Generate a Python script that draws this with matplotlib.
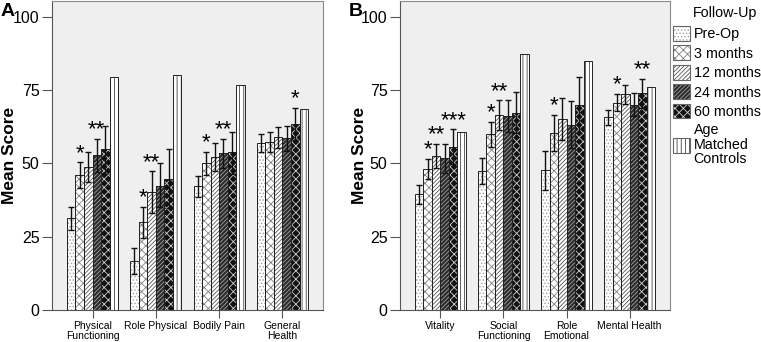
import matplotlib
matplotlib.use('Agg')
import matplotlib.pyplot as plt
import numpy as np
from matplotlib.patches import Patch

plt.rcParams['font.family'] = ['Liberation Sans', 'DejaVu Sans']
plt.rcParams['hatch.linewidth'] = 0.6

# Data
series = ['Pre-Op', '3 months', '12 months', '24 months', '60 months', 'Age\nMatched\nControls']

a_groups = ['Physical\nFunctioning', 'Role Physical', 'Bodily Pain', 'General\nHealth']
a_mean = [[31.2, 16.6, 42.3, 57.0],
          [46.0, 29.9, 50.0, 57.2],
          [48.6, 40.1, 52.3, 58.9],
          [52.7, 42.4, 53.4, 58.5],
          [54.7, 44.7, 53.9, 63.5],
          [79.5, 80.2, 76.8, 68.5]]
a_lo = [[27.3, 12.2, 38.5, 53.8],
        [41.5, 24.4, 46.0, 54.0],
        [43.5, 33.0, 47.5, 55.3],
        [47.0, 35.0, 48.3, 54.2],
        [46.3, 34.7, 46.5, 57.8]]
a_hi = [[35.0, 21.1, 45.8, 60.0],
        [50.3, 35.2, 53.8, 60.5],
        [53.9, 47.2, 56.8, 62.3],
        [58.2, 50.0, 58.4, 62.7],
        [62.7, 54.9, 60.7, 69.0]]
a_stars = [{1: '*', 3: '**'}, {1: '*', 2: '**'}, {1: '*', 3: '**'}, {4: '*'}]

b_groups = ['Vitality', 'Social\nFunctioning', 'Role\nEmotional', 'Mental Health']
b_mean = [[39.4, 47.3, 47.6, 65.6],
          [48.0, 59.9, 60.3, 70.7],
          [52.5, 66.4, 65.1, 73.5],
          [51.7, 66.1, 63.2, 70.0],
          [55.6, 67.3, 69.8, 73.8],
          [60.6, 87.2, 85.0, 76.0]]
b_lo = [[36.1, 42.8, 40.8, 63.0],
        [44.7, 55.7, 54.3, 67.8],
        [48.4, 61.4, 58.0, 70.3],
        [46.6, 60.6, 55.1, 66.1],
        [49.6, 60.4, 60.3, 68.8]]
b_hi = [[42.5, 51.8, 54.1, 68.2],
        [51.4, 64.1, 66.4, 73.6],
        [56.6, 71.4, 72.3, 76.7],
        [56.4, 71.6, 71.3, 73.9],
        [61.6, 74.2, 79.3, 78.8]]
b_stars = [{1: '*', 2: '**', 4: '***'}, {1: '*', 2: '**'}, {1: '*'}, {1: '*', 4: '**'}]

# fill colour, hatch colour, hatch pattern for each follow-up
styles = [('white', '#a0a0a0', '.....'),
          ('white', '#808080', 'xxxx'),
          ('white', '#555555', '////////'),
          ('#2a2a2a', '#a0a0a0', '////////'),
          ('#111111', '#d0d0d0', 'xxxx'),
          ('white', '#444444', '||||')]

bw = 0.135


def draw_panel(ax, groups, mean, lo, hi, stars, letter, lab_x):
    x = np.arange(len(groups))
    for i in range(6):
        xi = x + (i - 2.5) * bw
        fc, hc, h = styles[i]
        ax.bar(xi, mean[i], bw, color=fc, edgecolor=hc, hatch=h, linewidth=0, zorder=2)
        ax.bar(xi, mean[i], bw, fill=False, edgecolor='#222222', linewidth=0.7, zorder=3)
        if i < 5:
            m = np.array(mean[i])
            err = [m - np.array(lo[i]), np.array(hi[i]) - m]
            ax.errorbar(xi, m, yerr=err, fmt='none', ecolor='#111111',
                        elinewidth=1.0, capsize=2.0, capthick=1.0, zorder=4)
    for g, d in enumerate(stars):
        for i, s in d.items():
            ax.text(x[g] + (i - 2.5) * bw, hi[i][g] - 0.5, s, ha='center', va='bottom',
                    fontsize=16, zorder=5)
    ax.set_xlim(-0.64, 3.64)
    ax.set_ylim(0, 105.3)
    ax.set_yticks([0, 25, 50, 75, 100])
    ax.set_xticks(x)
    ax.set_xticklabels(groups, fontsize=7.5, linespacing=1.0)
    ax.tick_params(axis='y', labelsize=11.5, length=7, width=0.8, color='#555555', pad=2)
    ax.tick_params(axis='x', length=6, width=0.8, color='#555555', pad=2)
    ax.set_facecolor('#efefef')
    for s in ['left', 'bottom']:
        ax.spines[s].set_color('#555555')
    for s in ['top', 'right']:
        ax.spines[s].set_color('#8a8a8a')
    ax.set_ylabel('Mean Score', fontsize=12.5, fontweight='bold')
    ax.yaxis.set_label_coords(lab_x, 0.5)
    ax.text(-0.19, 0.995, letter, transform=ax.transAxes, fontsize=14,
            fontweight='bold', ha='left', va='top')


fig = plt.figure(figsize=(7.61, 3.42), dpi=100)
ax1 = fig.add_axes([52 / 761, 32 / 342, 271 / 761, 309 / 342])
ax2 = fig.add_axes([400 / 761, 32 / 342, 270 / 761, 309 / 342])

draw_panel(ax1, a_groups, a_mean, a_lo, a_hi, a_stars, 'A', -0.129)
draw_panel(ax2, b_groups, b_mean, b_lo, b_hi, b_stars, 'B', -0.122)

handles = [(Patch(facecolor=fc, edgecolor=hc, hatch=h, linewidth=0),
            Patch(fill=False, edgecolor='#666666', linewidth=0.8)) for fc, hc, h in styles]
leg = fig.legend(handles, series, loc='upper left', bbox_to_anchor=(673 / 761, 1 - 26 / 342),
                 frameon=False, fontsize=10.3, handlelength=1.2, handleheight=1.2,
                 handletextpad=0.25, labelspacing=0.3, borderpad=0, borderaxespad=0)
leg.get_texts()[-1].set_linespacing(1.05)
fig.text(693 / 761, 1 - 6 / 342, 'Follow-Up', fontsize=10.3, ha='left', va='top')

fig.savefig('out.png', dpi=100)
